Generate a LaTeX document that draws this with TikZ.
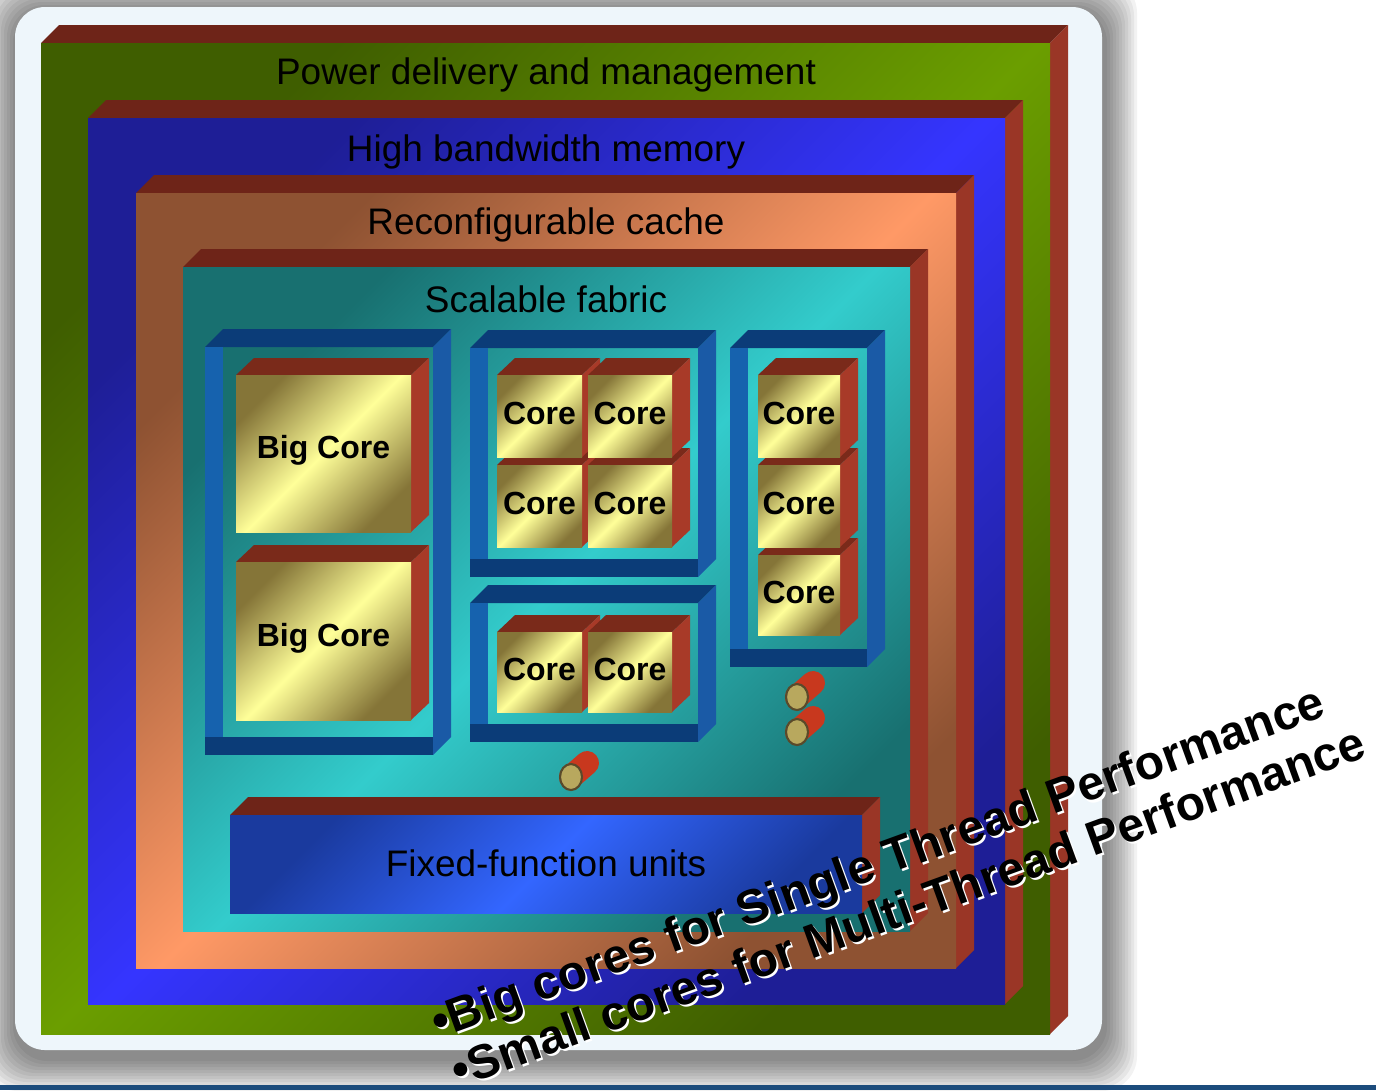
\documentclass[tikz,border=0pt]{standalone}
\usepackage{fontspec}
\setmainfont{Liberation Sans}
\usetikzlibrary{positioning}

\definecolor{greendark}{HTML}{3F5E00}
\definecolor{greenlight}{HTML}{6B9E00}
\definecolor{bluedark}{HTML}{1E1E96}
\definecolor{bluelight}{HTML}{3535FF}
\definecolor{orangedark}{HTML}{8E5232}
\definecolor{orangelight}{HTML}{FF9966}
\definecolor{tealdark}{HTML}{187070}
\definecolor{teallight}{HTML}{33CCCC}
\definecolor{ffudark}{HTML}{1A3A9E}
\definecolor{ffulight}{HTML}{3366FF}
\definecolor{coredark}{HTML}{857538}
\definecolor{corelight}{HTML}{FFFF99}
\definecolor{redtop}{HTML}{6E2418}
\definecolor{redside}{HTML}{9A3626}
\definecolor{coretopc}{HTML}{7A2A1A}
\definecolor{coresidec}{HTML}{A83A28}
\definecolor{traytop}{HTML}{0B3C78}
\definecolor{trayleft}{HTML}{1662AE}
\definecolor{trayside}{HTML}{1A5AA6}
\definecolor{pinred}{HTML}{C8381E}
\definecolor{pinface}{HTML}{B8A85E}
\definecolor{pinrim}{HTML}{5A4A2A}
\definecolor{panelc}{HTML}{EEF6FB}
\definecolor{barblue}{HTML}{1C4C7C}

% layer: x0, y0, x1, y1 of the front face, dark and light colour
\newcommand{\layerbox}[6]{%
  \fill[topface] (#1,#2) -- (#1+18,#2-18) -- (#3+18,#2-18) -- (#3,#2) -- cycle;
  \fill[sideface] (#3,#2) -- (#3+18,#2-18) -- (#3+18,#4-18) -- (#3,#4) -- cycle;
  \shade[top color=#5,bottom color=#5,middle color=#6,shading angle=45] (#1,#2) rectangle (#3,#4);
}
% blue tray round a group of cores
\newcommand{\tray}[4]{%
  \fill[traytop] (#1,#2) -- (#1+18,#2-18) -- (#3+18,#2-18) -- (#3,#2) -- cycle;
  \fill[trayside] (#3,#2) -- (#3+18,#2-18) -- (#3+18,#4-18) -- (#3,#4) -- cycle;
  \fill[trayleft] (#1,#2) rectangle (#1+18,#4);
  \fill[traytop] (#1,#4-18) rectangle (#3,#4);
}
% core cube: name, x0, y0, x1, y1, text
\newcommand{\corebox}[6]{%
  \fill[coretopc] (#2,#3) -- (#2+18,#3-17) -- (#4+18,#3-17) -- (#4,#3) -- cycle;
  \fill[coresidec] (#4,#3) -- (#4+18,#3-17) -- (#4+18,#5-17) -- (#4,#5) -- cycle;
  \shade[top color=coredark,bottom color=coredark,middle color=corelight,shading angle=45] (#2,#3) rectangle (#4,#5);
  \node[coretext] (#1) at ({(#2+#4)/2},{(#3+#5)/2-3}) {#6};
}
\newcommand{\corepin}[2]{%
  \draw[pinred,line width=0.24cm,line cap=round] (#1,#2) -- (#1+16,#2-14);
  \fill[pinface,draw=pinrim,line width=0.6pt] (#1,#2) ellipse [x radius=11,y radius=13];
}

\begin{document}
\begin{tikzpicture}[x=0.01cm,y=-0.01cm,
  topface/.style={fill=redtop},
  sideface/.style={fill=redside},
  layertext/.style={inner sep=0pt,font=\fontsize{10.5}{12}\selectfont},
  coretext/.style={inner sep=0pt,font=\bfseries\fontsize{9.1}{11}\selectfont},
  slanttext/.style={inner sep=0pt,anchor=base west,rotate=20,font=\bfseries\fontsize{13.6}{16}\selectfont}]
\useasboundingbox (0,0) rectangle (1376,1090);
\fill[white] (0,0) rectangle (1376,1090);
% shadow and panel
\foreach \s in {1,...,11}
  \fill[black,opacity=0.05,rounded corners=0.35cm] (16-3*\s,11-3*\s) rectangle (1104+3*\s,1058+3*\s);
\fill[panelc,rounded corners=0.3cm] (15,7) rectangle (1102,1050);
\fill[barblue] (0,1085) rectangle (1376,1090);

\layerbox{41}{43}{1050}{1034}{greendark}{greenlight}
\layerbox{88}{118}{1005}{1004}{bluedark}{bluelight}
\layerbox{136}{193}{956}{968}{orangedark}{orangelight}
\layerbox{183}{267}{910}{931}{tealdark}{teallight}
\node[layertext] (power) at (546,75) {Power delivery and management};
\node[layertext] (hbm) at (546,152) {High bandwidth memory};
\node[layertext] (cache) at (546,225) {Reconfigurable cache};
\node[layertext] (fabric) at (546,299) {Scalable fabric};

\tray{205}{347}{433}{755}
\tray{470}{348}{698}{577}
\tray{470}{603}{698}{742}
\tray{730}{348}{867}{667}

\corebox{big1}{236}{375}{411}{532}{Big Core}
\corebox{big2}{236}{562}{411}{720}{Big Core}
\corebox{quadc}{497}{465}{582}{547}{Core}
\corebox{quadd}{588}{465}{672}{547}{Core}
\corebox{quada}{497}{375}{582}{457}{Core}
\corebox{quadb}{588}{375}{672}{457}{Core}
\corebox{paira}{497}{632}{582}{712}{Core}
\corebox{pairb}{588}{632}{672}{712}{Core}
\corebox{colc}{758}{555}{840}{635}{Core}
\corebox{colb}{758}{465}{840}{547}{Core}
\corebox{cola}{758}{375}{840}{457}{Core}

\corepin{797}{697}
\corepin{797}{732}
\corepin{571}{777}

\layerbox{230}{815}{862}{913}{ffudark}{ffulight}
\node[layertext] (ffu) at (546,863) {Fixed-function units};

% slanted notes
\node[slanttext,white] (bigw) at (439.5,1041) {•Big cores for Single Thread Performance};
\node[slanttext] (big) at (437.5,1039) {•Big cores for Single Thread Performance};
\node[slanttext,white] (smallw) at (460,1090) {•Small cores for Multi-Thread Performance};
\node[slanttext] (small) at (458,1088) {•Small cores for Multi-Thread Performance};
\end{tikzpicture}
\end{document}
